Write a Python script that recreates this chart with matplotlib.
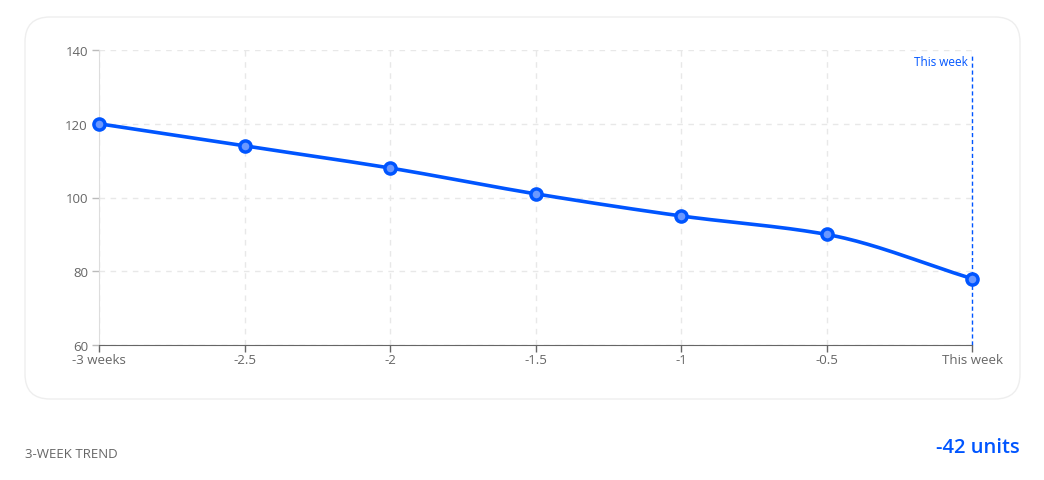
import matplotlib
matplotlib.use('Agg')

import numpy as np
import matplotlib.pyplot as plt
from matplotlib.patches import FancyBboxPatch

plt.rcParams['font.family'] = ['Open Sans', 'DejaVu Sans']

# data
weeks = [-3, -2.5, -2, -1.5, -1, -0.5, 0]
week_labels = ['-3 weeks', '-2.5', '-2', '-1.5', '-1', '-0.5', 'This week']
values = [120, 114, 108, 101, 95, 90, 78]
y_ticks = [60, 80, 100, 120, 140]
trend_label = '3-WEEK TREND'
trend_value = '-42 units'

BLUE = '#0055ff'
GRAY = '#666666'


def monotone_curve(x, y, n=40):
    """ monotone cubic (Fritsch-Carlson), like d3 curveMonotoneX """
    x = np.asarray(x, float); y = np.asarray(y, float)
    h = np.diff(x); d = np.diff(y) / h
    m = np.zeros_like(y)
    m[0], m[-1] = d[0], d[-1]
    for i in range(1, len(x) - 1):
        if d[i - 1] * d[i] <= 0:
            m[i] = 0
        else:
            w1 = 2 * h[i] + h[i - 1]; w2 = h[i] + 2 * h[i - 1]
            m[i] = (w1 + w2) / (w1 / d[i - 1] + w2 / d[i])
    xs, ys = [], []
    for i in range(len(x) - 1):
        t = np.linspace(0, 1, n)
        h00 = 2*t**3 - 3*t**2 + 1; h10 = t**3 - 2*t**2 + t
        h01 = -2*t**3 + 3*t**2; h11 = t**3 - t**2
        xs.append(x[i] + t * h[i])
        ys.append(h00*y[i] + h10*h[i]*m[i] + h01*y[i+1] + h11*h[i]*m[i+1])
    return np.concatenate(xs), np.concatenate(ys)


fig = plt.figure(figsize=(10.44, 4.81), dpi=100)

# card background
card = FancyBboxPatch((0.25, 0.81), 9.95, 3.82,
                      boxstyle='round,pad=0,rounding_size=0.25',
                      transform=fig.dpi_scale_trans,
                      facecolor='white', edgecolor='#eeeeee', linewidth=1.0,
                      zorder=-1)
fig.patches.append(card)

ax = fig.add_axes([99/1044, 1 - 346/481, 873/1044, 295/481])
ax.set_facecolor('none')

ax.set_xlim(-3, 0)
ax.set_ylim(60, 140)
ax.set_xticks(weeks)
ax.set_xticklabels(week_labels)
ax.set_yticks(y_ticks)

ax.grid(True, color='#e8e8e8', linestyle=(0, (4, 4)), linewidth=1.0)
ax.set_axisbelow(True)

for s in ['top', 'right']:
    ax.spines[s].set_visible(False)
ax.spines['left'].set_color('#dddddd')
ax.spines['bottom'].set_color(GRAY)
ax.tick_params(axis='both', colors=GRAY, labelsize=9.5, length=5, width=1)
ax.tick_params(axis='y', colors='#bbbbbb', labelcolor=GRAY, pad=3)
ax.tick_params(axis='x', pad=1)

# "this week" marker
ax.axvline(0, color=BLUE, linestyle=(0, (3, 2)), linewidth=1.0, ymax=0.985,
           clip_on=False, zorder=2.5)
ax.text(-0.015, 137, 'This week', color=BLUE, fontsize=8.5, ha='right', va='center')

cx, cy = monotone_curve(weeks, values)
ax.plot(cx, cy, color=BLUE, linewidth=2.6, solid_capstyle='round', clip_on=False, zorder=3)
ax.plot(weeks, values, linestyle='none', marker='o', markersize=8,
        markerfacecolor='#6b98ff', markeredgecolor=BLUE, markeredgewidth=2.5,
        clip_on=False, zorder=4)

fig.text(25/1044, 1 - 454/481, trend_label, color=GRAY, fontsize=9.5, ha='left', va='center')
fig.text(1020/1044, 1 - 448/481, trend_value, color=BLUE, fontsize=14.5,
         fontweight='semibold', ha='right', va='center')

fig.savefig('out.png', dpi=100, facecolor='white')
